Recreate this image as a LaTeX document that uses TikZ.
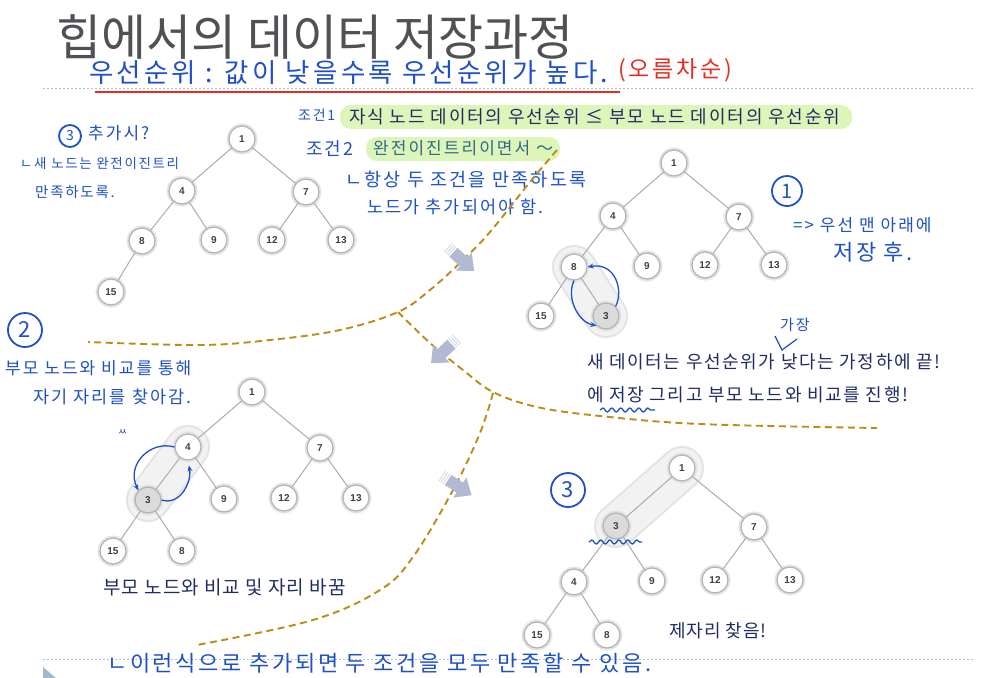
\documentclass[tikz,border=0pt]{standalone}
\usepackage{fontspec}
\usetikzlibrary{backgrounds,decorations.pathmorphing,arrows.meta}
\newfontfamily\kr{Noto Sans CJK KR}
\newfontfamily\hand[LetterSpace=12]{Noto Sans CJK KR}
\newfontfamily\numfont{Liberation Sans}
\definecolor{navy}{RGB}{30,45,100}
\definecolor{ink}{RGB}{30,80,200}
\definecolor{redink}{RGB}{230,45,35}
\definecolor{hlgreen}{RGB}{222,245,185}
\definecolor{gold}{RGB}{190,140,20}
\definecolor{dotc}{RGB}{170,195,220}
\definecolor{arrc}{RGB}{178,186,210}
\definecolor{titlec}{RGB}{80,80,85}
\definecolor{tealink}{RGB}{45,105,140}
\newcommand\hf[1]{\hand\fontsize{#1}{#1}\selectfont}
\newcommand\pf[2]{\kr\addfontfeature{LetterSpace=#2}\fontsize{#1}{#1}\selectfont}
\newcommand\blockarrow[3]{%
  \begin{scope}[shift={(#1,#2)}, rotate=#3]
    \fill[arrc] (-13,-6) -- (1,-6) -- (1,-12) -- (15,0) -- (1,12) -- (1,6) -- (-13,6) -- cycle;
    \foreach \k in {0,1,2} \draw[arrc!55, line width=0.9pt] (-15-2.5*\k,-6) -- (-15-2.5*\k,6);
  \end{scope}}
\begin{document}
\begin{tikzpicture}[x=1pt,y=-1pt,
  hn/.style={circle, minimum size=26pt, inner sep=0pt, fill=white, draw=gray!60, line width=1.2pt,
    preaction={draw=gray!22, line width=5pt},
    font=\numfont\bfseries\fontsize{10}{10}\selectfont, text=black!75},
  hs/.style={hn, fill=gray!28},
  tedge/.style={draw=gray!65, line width=1pt},
  capsule/.style={line cap=round},
  hw/.style={text=ink, inner sep=0pt, anchor=west},
  circ/.style={circle, draw=ink, line width=1.8pt, inner sep=0pt, text=ink},
  prt/.style={text=navy, inner sep=0pt, anchor=west},
  gdash/.style={draw=gold, line width=1.9pt, dash pattern=on 7pt off 4.5pt},
  bluearrow/.style={draw=ink, line width=1.3pt, -{Stealth[length=6pt,width=5pt]}},
  wavy/.style={draw=ink, line width=1.3pt, decorate, decoration={snake, amplitude=2pt, segment length=9pt}}]
\useasboundingbox (0,0) rectangle (989,678);

% ---------- title and top notes ----------
\node[anchor=west, inner sep=0pt, text=titlec, font=\kr\fontsize{49}{49}\selectfont] (title) at (56,37) {힙에서의 데이터 저장과정};
\draw[dotc, line width=1pt, dash pattern=on 2pt off 2pt] (43,88) -- (975,88);
\draw[redink, line width=1.2pt] (95,92) -- (620,92);
\node[hw, font=\hf{26.5}] (h1) at (89,73) {우선순위 : 값이 낮을수록 우선순위가 높다.};
\node[hw, text=redink, font=\hf{23}] (h2) at (618,70) {(오름차순)};

% ---------- conditions ----------
\fill[hlgreen, rounded corners=11pt] (340,105) rectangle (852,129);
\fill[hlgreen, rounded corners=11pt] (366,137) rectangle (560,161);
\node[hw, font=\hf{14}] (h3) at (298,115) {조건1};
\node[prt, font=\pf{18}{10}] (p1) at (349,117) {자식 노드 데이터의 우선순위 ≤ 부모 노드 데이터의 우선순위};
\node[hw, font=\hf{18}] (h4) at (306,149) {조건2};
\node[hw, text=tealink, font=\hf{17}] (h5) at (373,148) {완전이진트리이면서 ～};
\node[hw, font=\hf{18.5}] (h6) at (345,180) {ㄴ항상 두 조건을 만족하도록};
\node[hw, font=\hf{17.5}] (h7) at (367,207) {노드가 추가되어야 함.};

% ---------- left notes ----------
\node[circ, minimum size=22pt, font=\hf{14}] (k3a) at (70,136) {3};
\node[hw, font=\hf{17}] (h8) at (88,133) {추가시?};
\node[hw, font=\hf{13.5}] (h9) at (20,163) {ㄴ새 노드는 완전이진트리};
\node[hw, font=\hf{14.5}] (h10) at (35,192) {만족하도록.};

% ---------- dashed separators ----------
\draw[gdash] plot[smooth, tension=0.6] coordinates {(557,150) (530,182) (490,232) (463,260) (430,290) (398,312) (340,330) (270,340) (200,345) (88,342)};
\draw[gdash] plot[smooth, tension=0.6] coordinates {(398,312) (430,343) (463,370) (493,392) (537,407) (600,416) (700,424) (877,428)};
\draw[gdash] plot[smooth, tension=0.6] coordinates {(493,393) (480,433) (453,490) (413,557) (380,590) (313,620) (197,645)};

% ---------- block arrows ----------
\blockarrow{463}{261}{-42}
\blockarrow{442}{353}{-137}
\blockarrow{459}{487}{-33}

% ---------- tree 1 ----------
\node[hn] (a1) at (242,139) {1};
\node[hn] (a4) at (182,191) {4};
\node[hn] (a7) at (306,192) {7};
\node[hn] (a8) at (142,241) {8};
\node[hn] (a9) at (214,240) {9};
\node[hn] (a12) at (272,240) {12};
\node[hn] (a13) at (341,240) {13};
\node[hn] (a15) at (111,292) {15};
\draw[tedge] (a1) -- (a4); \draw[tedge] (a1) -- (a7);
\draw[tedge] (a4) -- (a8); \draw[tedge] (a4) -- (a9);
\draw[tedge] (a7) -- (a12); \draw[tedge] (a7) -- (a13);
\draw[tedge] (a8) -- (a15);

% ---------- tree 2 ----------
\node[hn] (b1) at (674,163) {1};
\node[hn] (b4) at (613,216) {4};
\node[hn] (b7) at (739,217) {7};
\node[hn] (b8) at (574,267) {8};
\node[hn] (b9) at (647,266) {9};
\node[hn] (b12) at (705,265) {12};
\node[hn] (b13) at (774,265) {13};
\node[hn] (b15) at (541,316) {15};
\node[hs] (b3) at (606,316) {3};
\draw[tedge] (b1) -- (b4); \draw[tedge] (b1) -- (b7);
\draw[tedge] (b4) -- (b8); \draw[tedge] (b4) -- (b9);
\draw[tedge] (b7) -- (b12); \draw[tedge] (b7) -- (b13);
\draw[tedge] (b8) -- (b15); \draw[tedge] (b8) -- (b3);
\draw[bluearrow] (b3.north east) .. controls (624,290) and (615,262) .. (b8.east);
\draw[bluearrow] (b8.south) .. controls (566,298) and (578,322) .. (b3.south west);

\node[circ, minimum size=30pt, font=\hf{20}] (k1) at (787,191) {1};
\node[hw, font=\hf{17}] (h11) at (793,225) {=> 우선 맨 아래에};
\node[hw, font=\hf{22}] (h12) at (833,252) {저장 후.};
\node[hw, font=\hf{15}] (h13) at (780,325) {가장};
\draw[ink, line width=1.2pt] (775,336) -- (782,350) -- (797,339);
\node[prt, font=\pf{18}{9}] (p2) at (587,362) {새 데이터는 우선순위가 낮다는 가정하에 끝!};
\node[prt, font=\pf{18}{9}] (p3) at (587,395) {에 저장 그리고 부모 노드와 비교를 진행!};
\draw[wavy] (600,410) -- (655,410);

% ---------- tree 3 ----------
\node[circ, minimum size=34pt, font=\hf{22}] (k2) at (25,330) {2};
\node[hw, font=\hf{17}] (h14) at (5,368) {부모 노드와 비교를 통해};
\node[hw, font=\hf{17.5}] (h15) at (33,397) {자기 자리를 찾아감.};
\node[hw, font=\hf{10}] (h16) at (118,432) {ㅆ};
\node[hn] (c1) at (252,392) {1};
\node[hn] (c4) at (188,447) {4};
\node[hn] (c7) at (320,448) {7};
\node[hs] (c3) at (148,500) {3};
\node[hn] (c9) at (224,499) {9};
\node[hn] (c12) at (284,498) {12};
\node[hn] (c13) at (356,498) {13};
\node[hn] (c15) at (113,551) {15};
\node[hn] (c8) at (182,551) {8};
\draw[tedge] (c1) -- (c4); \draw[tedge] (c1) -- (c7);
\draw[tedge] (c4) -- (c3); \draw[tedge] (c4) -- (c9);
\draw[tedge] (c7) -- (c12); \draw[tedge] (c7) -- (c13);
\draw[tedge] (c3) -- (c15); \draw[tedge] (c3) -- (c8);
\draw[bluearrow] (c4.west) .. controls (150,440) and (126,465) .. (c3.north west);
\draw[bluearrow, shorten >=5pt] (c3.east) .. controls (180,506) and (192,482) .. (c4.south);
\node[prt, font=\pf{19}{5.5}] (p4) at (103,587) {부모 노드와 비교 및 자리 바꿈};

% ---------- tree 4 ----------
\node[circ, minimum size=34pt, font=\hf{22}] (k3b) at (568,490) {3};
\node[hn] (d1) at (682,468) {1};
\node[hs] (d3) at (616,526) {3};
\node[hn] (d7) at (754,527) {7};
\node[hn] (d4) at (574,582) {4};
\node[hn] (d9) at (652,581) {9};
\node[hn] (d12) at (715,580) {12};
\node[hn] (d13) at (790,580) {13};
\node[hn] (d15) at (537,635) {15};
\node[hn] (d8) at (607,635) {8};
\draw[tedge] (d1) -- (d3); \draw[tedge] (d1) -- (d7);
\draw[tedge] (d3) -- (d4); \draw[tedge] (d3) -- (d9);
\draw[tedge] (d7) -- (d12); \draw[tedge] (d7) -- (d13);
\draw[tedge] (d4) -- (d15); \draw[tedge] (d4) -- (d8);
\draw[wavy] (589,542) -- (642,542);
\node[prt, font=\pf{18}{5.5}] (p5) at (669,631) {제자리 찾음!};

% ---------- bottom ----------
\draw[dotc, line width=1pt, dash pattern=on 2pt off 2pt] (43,659) -- (975,659);
\node[hw, font=\hf{22}] (h17) at (107,663) {ㄴ이런식으로 추가되면 두 조건을 모두 만족할 수 있음.};
\fill[dotc!85!gray] (43,667) -- (56,678) -- (43,678) -- cycle;

% ---------- background: white page and highlight capsules ----------
\begin{scope}[on background layer]
  \fill[white] (0,0) rectangle (989,678);
  \draw[capsule, gray!22, line width=44pt] (b8.center) -- (b3.center);
  \draw[capsule, gray!10, line width=40pt] (b8.center) -- (b3.center);
  \draw[capsule, gray!22, line width=44pt] (c4.center) -- (c3.center);
  \draw[capsule, gray!10, line width=40pt] (c4.center) -- (c3.center);
  \draw[capsule, gray!22, line width=44pt] (d1.center) -- (d3.center);
  \draw[capsule, gray!10, line width=40pt] (d1.center) -- (d3.center);
\end{scope}
\end{tikzpicture}
\end{document}
